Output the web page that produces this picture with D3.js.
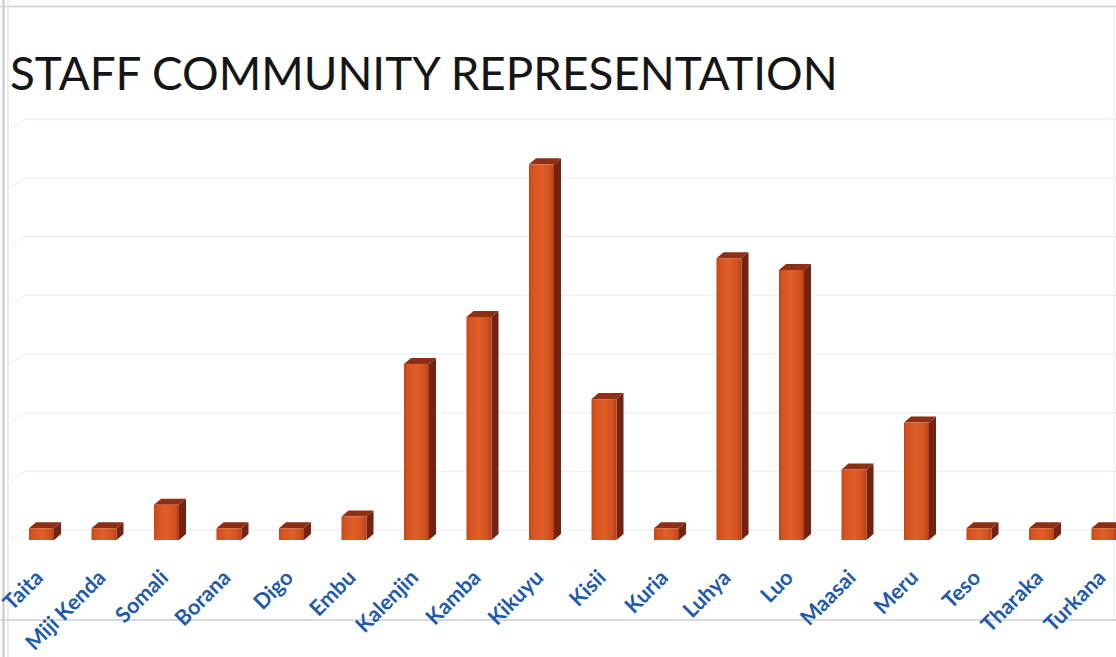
<!DOCTYPE html>
<html>
<head>
<meta charset="utf-8">
<script src="https://cdn.jsdelivr.net/npm/d3@7"></script>
<style>
  html, body { margin: 0; padding: 0; background: #ffffff; overflow: hidden; }
  svg { display: block; }
</style>
</head>
<body>
<svg id="chart" width="1116" height="657"></svg>
<script>
// ---- Data ----
const categories = ["Taita","Miji Kenda","Somali","Borana","Digo","Embu","Kalenjin","Kamba","Kikuyu","Kisii","Kuria","Luhya","Luo","Maasai","Meru","Teso","Tharaka","Turkana"];
const values = [1,1,3,1,1,2,15,19,32,12,1,24,23,6,10,1,1,1];
const gridTicks = [0,5,10,15,20,25,30,35];
const titleText = "STAFF COMMUNITY REPRESENTATION";

// ---- Setup ----
const W = 1116, H = 657;
const svg = d3.select("#chart");
const depthX = 7, depthY = 6;      // 3D bar depth
const wallY = 10;                  // back wall offset

const x = d3.scaleBand()
  .domain(categories)
  .range([10.25, 10.25 + 18 * 62.5])
  .paddingInner(0.6)
  .paddingOuter(0.3);

const y = d3.scaleLinear()
  .domain([0, 35])
  .range([540, 540 - 35 * 11.74]);

const defs = svg.append("defs");
const grad = defs.append("linearGradient").attr("id", "frontGrad")
  .attr("x1", "0%").attr("x2", "100%").attr("y1", "0%").attr("y2", "0%");
grad.append("stop").attr("offset", "0%").attr("stop-color", "#c4461a");
grad.append("stop").attr("offset", "15%").attr("stop-color", "#d6541f");
grad.append("stop").attr("offset", "50%").attr("stop-color", "#df5f28");
grad.append("stop").attr("offset", "85%").attr("stop-color", "#d1501e");
grad.append("stop").attr("offset", "100%").attr("stop-color", "#b33e18");

// ---- Frame lines ----
svg.append("line").attr("x1", 0).attr("x2", W).attr("y1", 6.5).attr("y2", 6.5)
  .attr("stroke", "#c9ccd2").attr("stroke-width", 1.5);
svg.append("line").attr("x1", 3.5).attr("x2", 3.5).attr("y1", 0).attr("y2", H)
  .attr("stroke", "#c4c6cc").attr("stroke-width", 2);
svg.append("line").attr("x1", 8).attr("x2", 8).attr("y1", 0).attr("y2", H)
  .attr("stroke", "#ece6d2").attr("stroke-width", 1.5);
svg.append("line").attr("x1", 1114).attr("x2", 1114).attr("y1", 8).attr("y2", 620)
  .attr("stroke", "#e6e8ec").attr("stroke-width", 1);
svg.append("line").attr("x1", 0).attr("x2", 1116).attr("y1", 620).attr("y2", 620)
  .attr("stroke", "#c8cdd6").attr("stroke-width", 1.5);

// ---- Gridlines on back wall ----
const grid = svg.append("g").attr("class", "grid");
grid.selectAll("line.h").data(gridTicks).join("line")
  .attr("class", "h")
  .attr("x1", 25).attr("x2", W)
  .attr("y1", d => y(d) - wallY).attr("y2", d => y(d) - wallY)
  .attr("stroke", "#e8edf4").attr("stroke-width", 1);
grid.selectAll("line.s").data(gridTicks).join("line")
  .attr("class", "s")
  .attr("x1", 25).attr("x2", 10)
  .attr("y1", d => y(d) - wallY).attr("y2", d => y(d) - wallY + 10)
  .attr("stroke", "#e8edf4").attr("stroke-width", 1);

// ---- Bars ----
const data = categories.map((c, i) => ({ c, v: values[i] }));
const bw = x.bandwidth();
const bars = svg.append("g").selectAll("g.bar").data(data).join("g").attr("class", "bar");

bars.append("polygon") // side
  .attr("points", d => {
    const x0 = x(d.c) + bw, yt = y(d.v), yb = y(0);
    return [[x0, yt], [x0 + depthX, yt - depthY], [x0 + depthX, yb - depthY], [x0, yb]].join(" ");
  })
  .attr("fill", "#742211");
bars.append("polygon") // top
  .attr("points", d => {
    const x0 = x(d.c), yt = y(d.v);
    return [[x0, yt], [x0 + depthX, yt - depthY], [x0 + bw + depthX, yt - depthY], [x0 + bw, yt]].join(" ");
  })
  .attr("fill", "#8c2f15");
bars.append("rect") // front
  .attr("x", d => x(d.c))
  .attr("y", d => y(d.v))
  .attr("width", bw)
  .attr("height", d => y(0) - y(d.v))
  .attr("fill", "url(#frontGrad)");

// ---- Category labels ----
svg.append("g").selectAll("text.lab").data(categories).join("text")
  .attr("class", "lab")
  .attr("transform", c => `translate(${x(c) + bw / 2 + 3},579) rotate(-45)`)
  .attr("text-anchor", "end")
  .attr("font-family", "Lato, 'Open Sans', sans-serif")
  .attr("font-weight", "bold")
  .attr("font-size", 21.5)
  .attr("fill", "#1f5bab")
  .text(c => c);

// ---- Title ----
const title = svg.append("text")
  .attr("x", 10).attr("y", 90)
  .attr("font-family", "Lato, 'Open Sans', sans-serif")
  .attr("font-size", 49)
  .attr("fill", "#161616")
  .text(titleText);
const tw = title.node().getComputedTextLength();
title.attr("font-size", 49 * 828 / tw);
</script>
</body>
</html>
